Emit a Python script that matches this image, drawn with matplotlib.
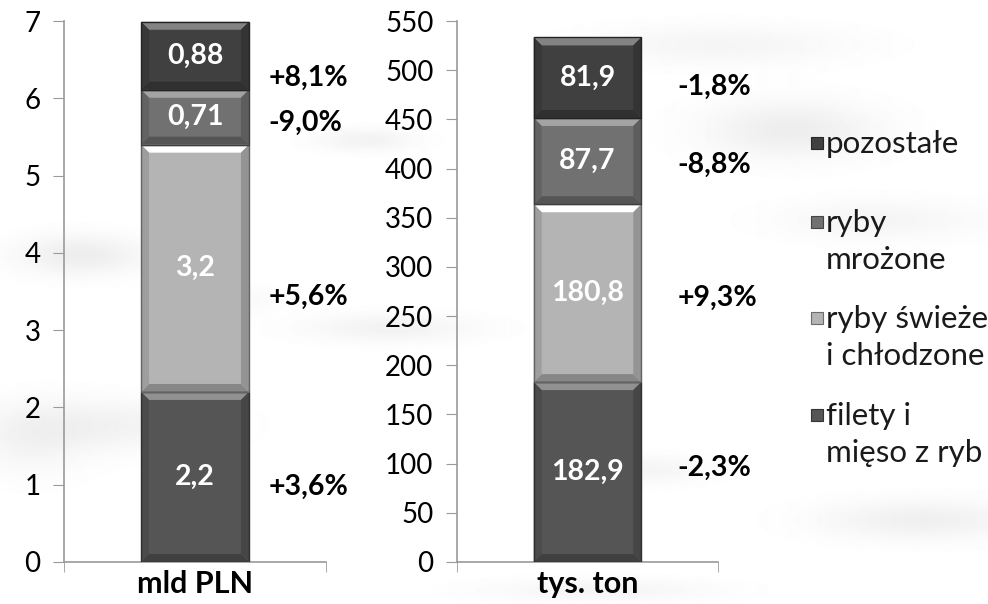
import matplotlib.pyplot as plt
import numpy as np
from matplotlib.patches import Polygon, Rectangle

plt.rcParams['font.family'] = ['Lato', 'DejaVu Sans']

# data (bottom -> top)
series = ['filety i\nmięso z ryb', 'ryby świeże\ni chłodzone', 'ryby\nmrożone', 'pozostałe']
colors = ['#555555', '#b4b4b4', '#717171', '#404040']
categories = ['mld PLN', 'tys. ton']
value_pln = [2.2, 3.2, 0.71, 0.88]
value_ton = [182.9, 180.8, 87.7, 81.9]
labels_pln = ['2,2', '3,2', '0,71', '0,88']
labels_ton = ['182,9', '180,8', '87,7', '81,9']
change_pln = ['+3,6%', '+5,6%', '-9,0%', '+8,1%']
change_ton = ['-2,3%', '+9,3%', '-8,8%', '-1,8%']

# layout of the change labels (y in data units)
change_y_pln = [0.97, 3.43, 5.68, 6.26]
change_y_ton = [96, 269, 404, 483]

W, H = 988, 604
fig = plt.figure(figsize=(W / 100, H / 100), dpi=100)

# faint decorative smudges in the background
bg = fig.add_axes([0, 0, 1, 1], zorder=-5)
yy, xx = np.mgrid[0:H, 0:W]
img = np.ones((H, W))
smudges = [(80, 255, 45, 14, 0.07), (110, 425, 70, 18, 0.05), (220, 300, 40, 10, 0.03),
           (390, 328, 60, 10, 0.05), (365, 140, 35, 8, 0.05), (720, 45, 90, 14, 0.04),
           (790, 130, 60, 20, 0.07), (880, 220, 70, 14, 0.04), (920, 520, 70, 14, 0.06),
           (650, 470, 40, 10, 0.04), (600, 590, 80, 8, 0.04), (30, 440, 40, 25, 0.04)]
for cx, cy, sx, sy, a in smudges:
    img -= a * np.exp(-((xx - cx) ** 2 / (2 * sx ** 2) + (yy - cy) ** 2 / (2 * sy ** 2)))
bg.imshow(img, cmap='gray', vmin=0, vmax=1, aspect='auto', interpolation='bilinear')
bg.axis('off')


def mix(c, t, amount):
    c = np.array(plt.matplotlib.colors.to_rgb(c))
    t = np.array(plt.matplotlib.colors.to_rgb(t))
    return tuple(c + (t - c) * amount)


def draw(ax, vals, labs, chg, chg_y, ymax, step, cat, chg_x):
    ax.set_facecolor('none')
    width = 0.412
    bottom = 0
    dx = 8 / 262
    dy = 8 / 541 * ymax
    for v, lab, c in zip(vals, labs, colors):
        x0, x1 = -width / 2, width / 2
        y0, y1 = bottom, bottom + v
        ax.add_patch(Rectangle((x0, y0), width, v, facecolor=c, edgecolor='none', zorder=2))
        top_c = '#ffffff' if c == '#b4b4b4' else mix(c, '#ffffff', 0.35)
        ax.add_patch(Polygon([(x0, y1), (x1, y1), (x1 - dx, y1 - dy), (x0 + dx, y1 - dy)],
                             facecolor=top_c, edgecolor='none', zorder=3))
        ax.add_patch(Polygon([(x0, y0), (x1, y0), (x1 - dx, y0 + dy), (x0 + dx, y0 + dy)],
                             facecolor=mix(c, '#000000', 0.25), edgecolor='none', zorder=3))
        ax.add_patch(Polygon([(x0, y0), (x0 + dx, y0 + dy), (x0 + dx, y1 - dy), (x0, y1)],
                             facecolor=mix(c, '#000000', 0.12), edgecolor='none', zorder=3))
        ax.add_patch(Polygon([(x1, y0), (x1 - dx, y0 + dy), (x1 - dx, y1 - dy), (x1, y1)],
                             facecolor=mix(c, '#000000', 0.18), edgecolor='none', zorder=3))
        ax.add_patch(Rectangle((x0, y0), width, v, facecolor='none',
                               edgecolor=mix(c, '#000000', 0.45), lw=1, zorder=4))
        ax.text(0, y0 + v / 2, lab, ha='center', va='center', color='white',
                fontsize=20.5, fontweight='bold', zorder=5)
        bottom += v
    for t, y in zip(chg, chg_y):
        ax.text(chg_x, y, t, ha='left', va='center', color='black',
                fontsize=20.5, fontweight='bold', zorder=5)
    ax.set_xlim(-0.5, 0.5)
    ax.set_ylim(0, ymax)
    ax.set_yticks(np.arange(0, ymax + step / 2, step))
    ax.set_xticks([0])
    ax.set_xticklabels([cat], fontsize=22, fontweight='bold')
    ax.set_xticks([-0.5, 0.5], minor=True)
    ax.tick_params(axis='x', which='major', length=0, pad=6)
    ax.tick_params(axis='x', which='minor', length=7, color='#9a9a9a', direction='out')
    ax.tick_params(axis='y', length=8, color='#9a9a9a', labelsize=20, pad=9)
    for s in ['top', 'right']:
        ax.spines[s].set_visible(False)
    for s in ['left', 'bottom']:
        ax.spines[s].set_color('#9a9a9a')
        ax.spines[s].set_linewidth(1.2)


ax1 = fig.add_axes([64 / W, 42 / H, 262 / W, 541 / H])
ax2 = fig.add_axes([457 / W, 42 / H, 261 / W, 541 / H])
draw(ax1, value_pln, labels_pln, change_pln, change_y_pln, 7, 1, categories[0], 0.28)
draw(ax2, value_ton, labels_ton, change_ton, change_y_ton, 550, 50, categories[1], 0.345)

# legend, drawn by hand so the marker sits next to the first line
legend_y = [415, 318, 222, 143]   # first-line centre, pixels from top
for name, c, py in zip(series, colors, legend_y):
    fig.add_artist(Rectangle((811 / W, 1 - (py + 6) / H), 12 / W, 12 / H,
                             transform=fig.transFigure, facecolor=c,
                             edgecolor=mix(c, '#000000', 0.4), lw=0.8))
    fig.text(826 / W, 1 - (py - 13) / H, name, ha='left', va='top', fontsize=22.5,
             linespacing=1.38, color='#1a1a1a')

fig.savefig('out.png', dpi=100)
